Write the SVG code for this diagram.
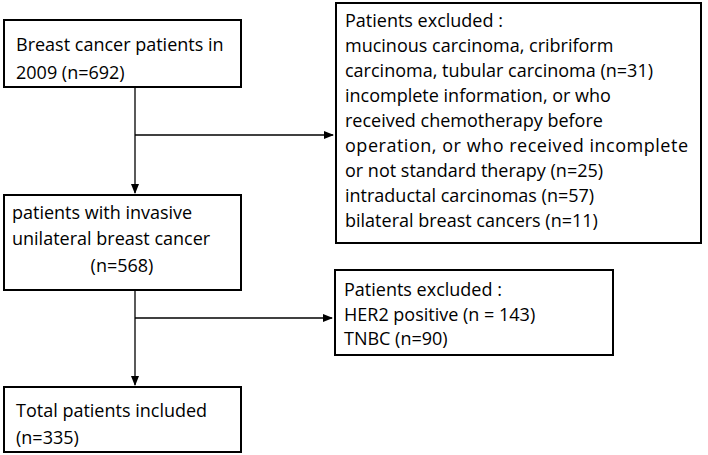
<svg xmlns="http://www.w3.org/2000/svg" width="708" height="455" viewBox="0 0 708 455">
<style>
rect{fill:#fff;stroke:#000;stroke-width:2}
text{font-family:"Open Sans","Liberation Sans",sans-serif;font-size:18px;fill:#000}
.c line{stroke:#000;stroke-width:1.3}
</style>
<defs><marker id="a" markerWidth="10" markerHeight="8" refX="9" refY="4" orient="auto" markerUnits="userSpaceOnUse"><path d="M0,0 L10,4 L0,8 z" fill="#000"/></marker></defs>
<rect width="708" height="455" style="stroke:none"/>
<g class="c">
<line x1="135" y1="87" x2="135" y2="193" marker-end="url(#a)"/>
<line x1="135" y1="135" x2="333" y2="135" marker-end="url(#a)"/>
<line x1="135" y1="290" x2="135" y2="385" marker-end="url(#a)"/>
<line x1="135" y1="318" x2="332" y2="318" marker-end="url(#a)"/>
</g>
<g id="n1"><rect x="4" y="20" width="237" height="67"/><text x="16" y="51">Breast cancer patients  in</text><text x="16" y="79">2009 (n=692)</text></g>
<g id="n2"><rect x="336" y="3" width="365" height="240"/>
<text x="345" y="27">Patients excluded :</text>
<text x="345" y="52">mucinous carcinoma, cribriform</text>
<text x="345" y="77">carcinoma, tubular carcinoma (n=31)</text>
<text x="345" y="102">incomplete information, or who</text>
<text x="345" y="127">received chemotherapy  before</text>
<text x="345" y="152" textLength="343">operation, or who  received incomplete</text>
<text x="345" y="177">or not standard  therapy (n=25)</text>
<text x="345" y="202">intraductal carcinomas (n=57)</text>
<text x="345" y="227">bilateral breast cancers (n=11)</text></g>
<g id="n3"><rect x="4" y="195" width="237" height="95"/><text x="12" y="219">patients with invasive</text><text x="12" y="245">unilateral breast cancer</text><text x="122" y="272" text-anchor="middle">(n=568)</text></g>
<g id="n4"><rect x="335" y="270" width="278" height="85"/><text x="344" y="296">Patients excluded :</text><text x="344" y="321">HER2 positive  (n = 143)</text><text x="344" y="345">TNBC (n=90)</text></g>
<g id="n5"><rect x="4" y="387" width="237" height="65"/><text x="16" y="417">Total patients included</text><text x="16" y="444">(n=335)</text></g>
</svg>
